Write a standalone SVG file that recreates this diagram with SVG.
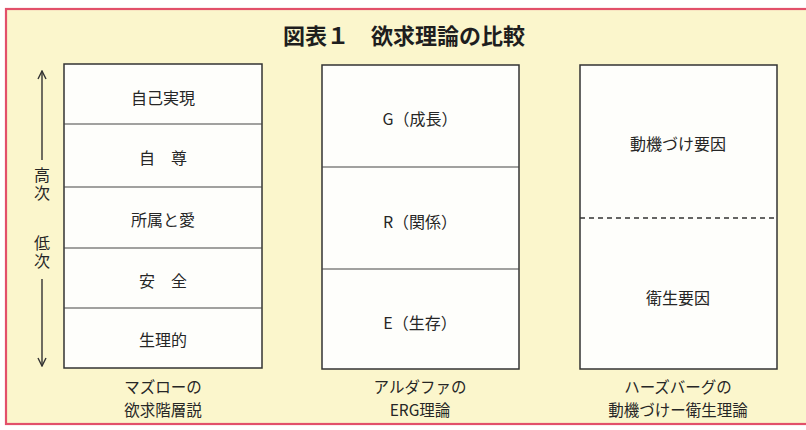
<svg xmlns="http://www.w3.org/2000/svg" width="806" height="430" viewBox="0 0 806 430">
<defs>
<style>
.t{font-family:"Noto Sans CJK JP","Noto Sans",sans-serif;font-size:16px;fill:#262626;text-anchor:middle;dominant-baseline:central}
.lab{font-size:15.5px}
.v{font-family:"Noto Sans CJK JP",sans-serif;font-size:16px;fill:#262626;writing-mode:vertical-rl;text-anchor:middle;letter-spacing:2px}
.title{font-family:"Noto Sans CJK JP",sans-serif;font-size:22px;font-weight:bold;fill:#1e1e1e;dominant-baseline:central}
.box{fill:#fefefb;stroke:#333;stroke-width:1.5}
.div{stroke:#444;stroke-width:1.2;fill:none}
.dash{stroke:#333;stroke-width:1.3;stroke-dasharray:5 4;fill:none}
.arr{stroke:#333;stroke-width:1.4;fill:none}
</style>
<marker id="ah" viewBox="0 0 10 10" refX="9" refY="5" markerWidth="10" markerHeight="10" markerUnits="userSpaceOnUse" orient="auto">
<path d="M1,1 L9,5 L1,9" fill="none" stroke="#333" stroke-width="1.4"/>
</marker>
</defs>
<rect x="0" y="0" width="806" height="430" fill="#ffffff"/>
<rect x="6" y="9" width="810" height="415" fill="#fbf6cc" stroke="#e2506a" stroke-width="2.2"/>
<text class="title" x="283" y="34">図表１　欲求理論の比較</text>

<g id="maslow">
<rect class="box" x="64" y="64" width="198" height="304"/>
<line class="div" x1="64" y1="124" x2="262" y2="124"/>
<line class="div" x1="64" y1="187" x2="262" y2="187"/>
<line class="div" x1="64" y1="248" x2="262" y2="248"/>
<line class="div" x1="64" y1="308" x2="262" y2="308"/>
<text class="t" x="163" y="97">自己実現</text>
<text class="t" x="163" y="157">自　尊</text>
<text class="t" x="163" y="219">所属と愛</text>
<text class="t" x="163" y="280">安　全</text>
<text class="t" x="163" y="339">生理的</text>
<text class="t lab" x="163" y="386">マズローの</text>
<text class="t lab" x="163" y="409">欲求階層説</text>
</g>

<g id="scale">
<text class="v" x="42" y="185">高次</text>
<text class="v" x="42" y="253">低次</text>
</g>

<g id="erg">
<rect class="box" x="322" y="65" width="197" height="304"/>
<line class="div" x1="322" y1="167" x2="519" y2="167"/>
<line class="div" x1="322" y1="269" x2="519" y2="269"/>
<text class="t" x="420" y="118">G（成長）</text>
<text class="t" x="420" y="221">R（関係）</text>
<text class="t" x="420" y="322">E（生存）</text>
<text class="t lab" x="420" y="386">アルダファの</text>
<text class="t lab" x="420" y="409">ERG理論</text>
</g>

<g id="herzberg">
<rect class="box" x="580" y="65" width="197" height="304"/>
<line class="dash" x1="580" y1="218" x2="777" y2="218"/>
<text class="t" x="678" y="143">動機づけ要因</text>
<text class="t" x="678" y="297">衛生要因</text>
<text class="t lab" x="678" y="386">ハーズバーグの</text>
<text class="t lab" x="678" y="409">動機づけー衛生理論</text>
</g>

<g id="connectors">
<line class="arr" x1="42" y1="160" x2="42" y2="71" marker-end="url(#ah)"/>
<line class="arr" x1="42" y1="279" x2="42" y2="366" marker-end="url(#ah)"/>
</g>
</svg>
